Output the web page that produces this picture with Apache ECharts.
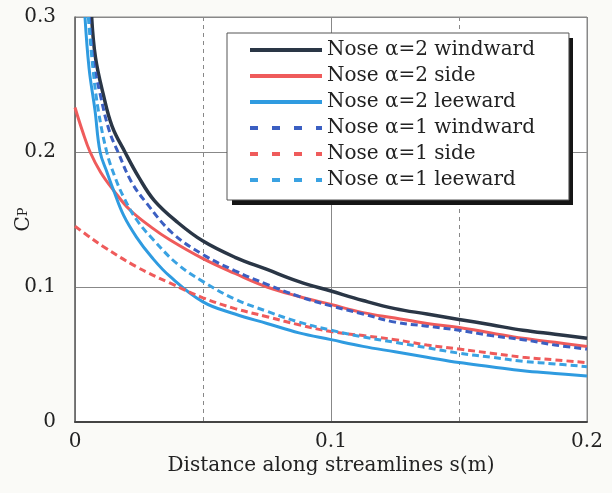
<!DOCTYPE html>
<html>
<head>
<meta charset="utf-8">
<script src="https://cdn.jsdelivr.net/npm/echarts@6/dist/echarts.min.js"></script>
<style>
  html, body { margin: 0; padding: 0; background: #fafaf7; }
  #chart { width: 612px; height: 493px; }
</style>
</head>
<body>
<div id="chart"></div>
<script>
// s (m) and Cp for each streamline
const sWind2 = [0.0065, 0.008, 0.011, 0.0145, 0.0195, 0.025, 0.031, 0.04, 0.05, 0.0625, 0.075, 0.0875, 0.1, 0.1125, 0.125, 0.1375, 0.15, 0.1625, 0.175, 0.1875, 0.2];
const cpWind2 = [0.300, 0.270, 0.243, 0.219, 0.200, 0.181, 0.164, 0.148, 0.134, 0.122, 0.113, 0.104, 0.097, 0.090, 0.084, 0.080, 0.076, 0.072, 0.068, 0.065, 0.062];

const sSide2 = [0, 0.003, 0.0059, 0.01, 0.0149, 0.0215, 0.03, 0.037, 0.05, 0.0625, 0.075, 0.0875, 0.1, 0.1125, 0.125, 0.1375, 0.15, 0.1625, 0.175, 0.1875, 0.2];
const cpSide2 = [0.233, 0.215, 0.200, 0.185, 0.172, 0.157, 0.144, 0.135, 0.121, 0.110, 0.100, 0.093, 0.087, 0.081, 0.077, 0.073, 0.070, 0.066, 0.062, 0.059, 0.056];

const sLee2 = [0.0039, 0.0055, 0.0078, 0.0098, 0.0125, 0.015, 0.019, 0.024, 0.03, 0.037, 0.05, 0.0625, 0.075, 0.0875, 0.1, 0.1125, 0.125, 0.1375, 0.15, 0.1625, 0.175, 0.1875, 0.2];
const cpLee2 = [0.300, 0.262, 0.231, 0.200, 0.185, 0.172, 0.153, 0.137, 0.122, 0.108, 0.089, 0.080, 0.073, 0.066, 0.061, 0.056, 0.052, 0.048, 0.044, 0.041, 0.038, 0.036, 0.034];

const sWind1 = [0.0056, 0.007, 0.0098, 0.0135, 0.0168, 0.022, 0.028, 0.038, 0.05, 0.0625, 0.075, 0.0875, 0.1, 0.1125, 0.125, 0.1375, 0.15, 0.1625, 0.175, 0.1875, 0.2];
const cpWind1 = [0.300, 0.270, 0.243, 0.215, 0.200, 0.178, 0.162, 0.140, 0.124, 0.112, 0.102, 0.093, 0.086, 0.080, 0.074, 0.071, 0.068, 0.064, 0.061, 0.057, 0.054];

const sSide1 = [0, 0.005, 0.011, 0.024, 0.037, 0.05, 0.0625, 0.075, 0.0875, 0.1, 0.1125, 0.125, 0.1375, 0.15, 0.1625, 0.175, 0.1875, 0.2];
const cpSide1 = [0.145, 0.138, 0.130, 0.115, 0.103, 0.092, 0.084, 0.078, 0.072, 0.067, 0.064, 0.061, 0.057, 0.054, 0.051, 0.048, 0.046, 0.044];

const sLee1 = [0.0052, 0.007, 0.0091, 0.0124, 0.0155, 0.0189, 0.024, 0.0306, 0.04, 0.05, 0.0625, 0.075, 0.0875, 0.1, 0.1125, 0.125, 0.1375, 0.15, 0.1625, 0.175, 0.1875, 0.2];
const cpLee1 = [0.300, 0.262, 0.231, 0.200, 0.182, 0.167, 0.150, 0.135, 0.117, 0.104, 0.091, 0.082, 0.074, 0.068, 0.063, 0.059, 0.055, 0.051, 0.048, 0.045, 0.043, 0.041];

const names = [
  "Nose α=2 windward", "Nose α=2 side", "Nose α=2 leeward",
  "Nose α=1 windward", "Nose α=1 side", "Nose α=1 leeward"
];

const pair = (s, cp) => s.map((v, i) => [v, cp[i]]);
const font = "DejaVu Serif";
const dash = [7, 4];

function line(name, data, color, width, type) {
  return {
    name: name,
    type: "line",
    data: data,
    symbol: "none",
    smooth: 0.4,
    lineStyle: { color: color, width: width, type: type },
    itemStyle: { color: color },
  };
}

const chart = echarts.init(document.getElementById("chart"));

const option = {
  animation: false,
  grid: {
    left: 75, right: 25, top: 17, bottom: 71,
    outerBoundsMode: "none",
    show: true,
    backgroundColor: "#fff",
    borderColor: "#888",
    borderWidth: 1,
  },
  // drop shadow behind the legend box
  graphic: [{
    type: "rect",
    left: 232,
    top: 38,
    shape: { width: 341, height: 167 },
    style: { fill: "#151515" },
    z: 3,
  }],
  legend: {
    orient: "vertical",
    left: 227,
    top: 33,
    z: 4,
    padding: [7, 34, 10, 21],
    itemGap: 6,
    itemWidth: 72,
    itemHeight: 20,
    backgroundColor: "#fff",
    borderColor: "#555",
    borderWidth: 1,
    itemStyle: { opacity: 0 },
    textStyle: { fontFamily: font, fontSize: 20, color: "#222" },
    data: [
      { name: names[0], lineStyle: { width: 4 } },
      { name: names[1], lineStyle: { width: 4 } },
      { name: names[2], lineStyle: { width: 4 } },
      { name: names[3], lineStyle: { width: 4, type: [8, 14] } },
      { name: names[4], lineStyle: { width: 4, type: [8, 14] } },
      { name: names[5], lineStyle: { width: 4, type: [8, 14] } },
    ],
  },
  xAxis: {
    type: "value",
    min: 0,
    max: 0.2,
    interval: 0.1,
    name: "Distance along streamlines s(m)",
    nameLocation: "middle",
    nameGap: 34,
    nameMoveOverlap: false,
    nameTextStyle: { fontFamily: font, fontSize: 20, color: "#222" },
    axisLine: { lineStyle: { color: "#444", width: 2 } },
    axisTick: { show: false },
    axisLabel: { fontFamily: font, fontSize: 20, color: "#222", margin: 10 },
    splitLine: { show: true, lineStyle: { color: "#888", width: 1 } },
    minorTick: { show: false, splitNumber: 2 },
    minorSplitLine: { show: true, lineStyle: { color: "#888", width: 1, type: [4, 4] } },
  },
  yAxis: {
    type: "value",
    min: 0,
    max: 0.3,
    interval: 0.1,
    name: "{c|C}{p|P}",
    nameLocation: "middle",
    nameGap: 41,
    nameMoveOverlap: false,
    nameTextStyle: {
      fontFamily: font,
      color: "#222",
      rich: {
        c: { fontFamily: font, fontSize: 20, color: "#222" },
        p: { fontFamily: font, fontSize: 13, color: "#222" },
      },
    },
    axisLine: { show: true, lineStyle: { color: "#666", width: 1.5 } },
    axisTick: { show: false },
    axisLabel: { fontFamily: font, fontSize: 20, color: "#222", margin: 19 },
    splitLine: { show: true, lineStyle: { color: "#888", width: 1 } },
  },
  series: [
    line(names[0], pair(sWind2, cpWind2), "#2a3646", 3.5, "solid"),
    line(names[1], pair(sSide2, cpSide2), "#ef5b5b", 3, "solid"),
    line(names[2], pair(sLee2, cpLee2), "#2f9be0", 3, "solid"),
    line(names[3], pair(sWind1, cpWind1), "#3b5fc2", 3, dash),
    line(names[4], pair(sSide1, cpSide1), "#ef5b5b", 3, dash),
    line(names[5], pair(sLee1, cpLee1), "#3aa2e2", 3, dash),
  ],
};

chart.setOption(option);
</script>
</body>
</html>
